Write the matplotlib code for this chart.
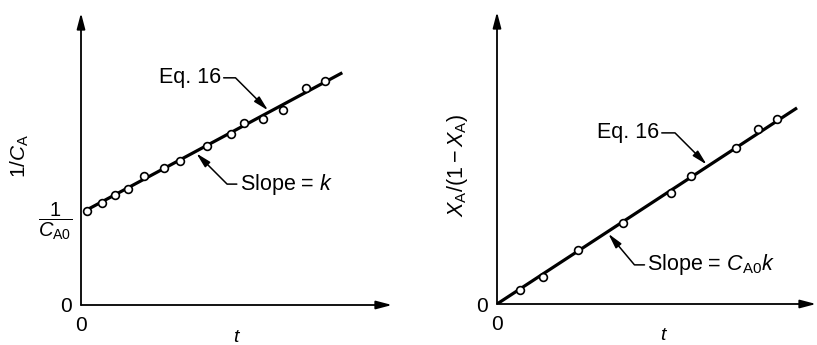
import matplotlib
matplotlib.use("Agg")
import matplotlib.pyplot as plt
import numpy as np

plt.rcParams['font.family'] = ['Liberation Sans', 'DejaVu Sans']
plt.rcParams['mathtext.fontset'] = 'custom'
plt.rcParams['mathtext.rm'] = 'Liberation Sans'
plt.rcParams['mathtext.it'] = 'Liberation Sans:italic'
plt.rcParams['mathtext.bf'] = 'Liberation Sans:bold'

# ---- data (arbitrary units) ----
t_left = [0.23, 0.81, 1.31, 1.81, 2.42, 3.19, 3.81, 4.85, 5.77, 6.27, 7.00, 7.77, 8.65, 9.38]
inv_ca = [3.22, 3.49, 3.77, 3.97, 4.42, 4.69, 4.93, 5.45, 5.86, 6.23, 6.37, 6.68, 7.43, 7.67]
inv_ca0 = 3.15
k_left = 0.478
fit_left_t = [0.15, 10.05]

t_right = [0.88, 1.77, 3.12, 4.85, 6.69, 7.46, 9.19, 10.04, 10.77]
xa_ratio = [0.48, 0.92, 1.85, 2.77, 3.80, 4.38, 5.34, 5.99, 6.34]
k_right = 0.582
fit_right_t = [0.0, 11.54]

W, H = 817, 345
fig = plt.figure(figsize=(W / 100, H / 100), dpi=100)

axL = fig.add_axes([81 / W, (H - 305) / H, 311 / W, 292 / H])
axR = fig.add_axes([497 / W, (H - 304) / H, 319 / W, 292 / H])

axL.set_xlim(0, 311 / 26)
axL.set_ylim(0, 10)
axR.set_xlim(0, 319 / 26)
axR.set_ylim(0, 10)

FS = 15
for ax in (axL, axR):
    for s in ax.spines.values():
        s.set_visible(False)
    ax.tick_params(length=0)
    arrow = dict(arrowstyle='-|>,head_length=0.95,head_width=0.25', lw=1.3,
                 color='black', shrinkA=0, shrinkB=0, mutation_scale=10)
    ax.annotate('', xy=(1, 0), xytext=(0, 0), xycoords='axes fraction',
                textcoords='axes fraction', arrowprops=arrow, annotation_clip=False)
    ax.annotate('', xy=(0, 1), xytext=(0, 0), xycoords='axes fraction',
                textcoords='axes fraction', arrowprops=arrow, annotation_clip=False)
    ax.set_xticks([0])
    ax.set_xticklabels(['0'], fontsize=FS)
    ax.tick_params(axis='x', pad=8)
    ax.tick_params(axis='y', pad=6.5)
    ax.set_xlabel('$t$', fontsize=14)
    ax.xaxis.label.set_va('center')

axL.set_yticks([0, inv_ca0])
axL.set_yticklabels(['0', r'$\dfrac{1}{C_{\mathrm{A0}}}$'], fontsize=FS)
axL.get_yticklabels()[1].set_fontsize(14.5)
axR.set_yticks([0])
axR.set_yticklabels(['0'], fontsize=FS)

axL.xaxis.set_label_coords((237 - 81) / 311, (305 - 337) / 292)
axR.xaxis.set_label_coords((664 - 497) / 319, (304 - 336) / 292)

axL.set_ylabel(r'$1/C_{\mathrm{A}}$', fontsize=15)
axL.yaxis.label.set_va('center')
axL.yaxis.set_label_coords((20 - 81) / 311, (305 - 156) / 292)
axR.set_ylabel(r'$X_{\mathrm{A}}/(1-X_{\mathrm{A}})$', fontsize=15.5)
axR.yaxis.label.set_va('center')
axR.yaxis.set_label_coords((457 - 497) / 319, (304 - 166) / 292)

# fit lines
tl = np.array(fit_left_t)
axL.plot(tl, inv_ca0 + k_left * tl, color='black', lw=2.3, solid_capstyle='butt', zorder=2)
tr = np.array(fit_right_t)
axR.plot(tr, k_right * tr, color='black', lw=2.3, solid_capstyle='butt', zorder=2)

# data points
mk = dict(marker='o', ls='none', ms=5.6, mfc='white', mec='black', mew=1.2, zorder=3)
axL.plot(t_left, inv_ca, **mk)
axR.plot(t_right, xa_ratio, **mk, clip_on=False)

ann_arrow = dict(arrowstyle='-|>,head_length=0.9,head_width=0.22', lw=1.1, color='black',
                 shrinkA=2, shrinkB=1.5, mutation_scale=10)

def callout(ax, text, tip_t, line_y, txt_t, txt_y, angleB, left_side):
    ap = dict(ann_arrow)
    ap['connectionstyle'] = f'angle,angleA=0,angleB={angleB},rad=0'
    ap['relpos'] = (1, 0.5) if left_side else (0, 0.5)
    ap['patchA'] = None
    ax.annotate(text, xy=(tip_t, line_y), xytext=(txt_t, txt_y),
                ha='right' if left_side else 'left', va='center', fontsize=15.5,
                arrowprops=ap, annotation_clip=False)

# left panel call-outs
tipA = 7.25
callout(axL, 'Eq. 16', tipA, inv_ca0 + k_left * tipA, 5.38, 7.78, 135, True)
tipB = 4.38
callout(axL, 'Slope = $k$', tipB, inv_ca0 + k_left * tipB, 6.10, 4.14, -45, False)

# right panel call-outs
tipC = 8.12
callout(axR, 'Eq. 16', tipC, k_right * tipC, 6.23, 5.86, 135, True)
tipD = 4.23
callout(axR, r'Slope = $C_{\mathrm{A0}}k$', tipD, k_right * tipD, 5.78, 1.34, -50, False)

fig.savefig('out.png', dpi=100)
